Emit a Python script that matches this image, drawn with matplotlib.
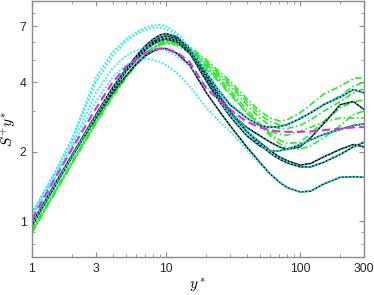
import matplotlib
matplotlib.use("Agg")
import matplotlib.pyplot as plt
from matplotlib.ticker import FixedLocator, NullFormatter

plt.rcParams['font.family'] = ['Liberation Sans', 'DejaVu Sans']
plt.rcParams['mathtext.fontset'] = 'cm'

yplus = [1, 1.5, 2, 3, 4, 5, 6, 7, 8, 9, 10, 12, 15, 20, 25, 30, 40, 50, 60, 70, 80, 100, 120, 150, 200, 250, 300]

# black solid reference curves (overlaid with cyan dots)
black_1 = [0.97, 1.45, 1.92, 2.8, 3.6, 4.25, 4.8, 5.2, 5.45, 5.6, 5.6, 5.35, 4.75, 3.6, 3.0, 2.6, 2.1, 1.8, 1.6, 1.48, 1.4, 1.34, 1.35, 1.45, 1.55, 1.56, 1.55]
black_2 = [0.98, 1.47, 1.95, 2.9, 3.8, 4.55, 5.2, 5.75, 6.15, 6.4, 6.5, 6.3, 5.6, 4.3, 3.5, 3.0, 2.45, 2.15, 1.97, 1.86, 1.79, 1.72, 1.72, 1.8, 1.95, 2.1, 2.2]
black_3 = [0.97, 1.45, 1.93, 2.87, 3.75, 4.5, 5.1, 5.6, 6.0, 6.25, 6.35, 6.2, 5.5, 4.2, 3.4, 2.95, 2.45, 2.2, 2.02, 1.9, 1.83, 1.75, 1.78, 1.9, 2.05, 2.15, 2.1]
black_4 = [0.96, 1.44, 1.92, 2.85, 3.7, 4.45, 5.0, 5.5, 5.85, 6.05, 6.15, 6.0, 5.35, 4.05, 3.3, 2.85, 2.35, 2.12, 2.02, 2.02, 2.05, 2.15, 2.25, 2.38, 2.5, 2.6, 2.64]
black_5 = [0.96, 1.44, 1.92, 2.85, 3.7, 4.45, 5.05, 5.55, 5.9, 6.1, 6.2, 6.05, 5.45, 4.15, 3.4, 2.95, 2.55, 2.35, 2.2, 2.1, 2.05, 2.1, 2.3, 2.65, 3.2, 3.3, 3.05]
black_6 = [0.96, 1.44, 1.92, 2.85, 3.7, 4.45, 5.05, 5.55, 5.9, 6.1, 6.2, 6.1, 5.6, 4.4, 3.65, 3.2, 2.8, 2.6, 2.55, 2.57, 2.62, 2.78, 2.95, 3.2, 3.45, 3.72, 3.6]

# cyan dotted model curves
cyan_1 = [1.09, 1.65, 2.3, 4.2, 5.4, 6.15, 6.6, 6.9, 7.05, 7.1, 7.0, 6.55, 5.7, 4.4, 3.6, 3.1, 2.5, 2.17, 1.98, 1.87, 1.8, 1.72, 1.72, 1.8, 1.95, 2.1, 2.2]
cyan_2 = [1.08, 1.63, 2.25, 4.0, 5.2, 6.0, 6.45, 6.75, 6.9, 6.9, 6.8, 6.4, 5.65, 4.45, 3.7, 3.25, 2.8, 2.6, 2.55, 2.57, 2.62, 2.78, 2.95, 3.2, 3.45, 3.72, 3.6]
cyan_3 = [1.06, 1.58, 2.15, 3.6, 4.6, 5.2, 5.5, 5.65, 5.65, 5.6, 5.5, 5.2, 4.7, 3.85, 3.3, 2.9, 2.4, 2.15, 2.02, 2.02, 2.05, 2.15, 2.25, 2.38, 2.5, 2.6, 2.64]
cyan_4 = [1.05, 1.55, 2.1, 3.3, 4.2, 4.75, 5.0, 5.05, 5.0, 4.9, 4.75, 4.4, 3.85, 3.1, 2.7, 2.45, 2.05, 1.78, 1.6, 1.48, 1.4, 1.34, 1.35, 1.45, 1.55, 1.56, 1.55]

# green dash-dot curves
green_1 = [0.9, 1.35, 1.8, 2.68, 3.5, 4.2, 4.8, 5.3, 5.65, 5.9, 6.05, 6.1, 5.7, 5.0, 4.45, 4.05, 3.4, 3.0, 2.8, 2.72, 2.75, 2.95, 3.2, 3.55, 3.85, 4.15, 4.2]
green_2 = [0.91, 1.36, 1.81, 2.7, 3.52, 4.22, 4.82, 5.3, 5.65, 5.9, 6.05, 6.0, 5.6, 4.9, 4.35, 3.95, 3.3, 2.9, 2.7, 2.62, 2.62, 2.8, 2.95, 3.2, 3.5, 3.85, 4.0]
green_3 = [0.92, 1.37, 1.82, 2.72, 3.55, 4.25, 4.85, 5.3, 5.65, 5.85, 5.95, 5.9, 5.5, 4.8, 4.25, 3.85, 3.2, 2.8, 2.6, 2.52, 2.52, 2.6, 2.75, 3.0, 3.3, 3.6, 3.75]
green_4 = [0.9, 1.35, 1.8, 2.68, 3.5, 4.2, 4.8, 5.25, 5.6, 5.85, 6.0, 5.95, 5.55, 4.75, 4.15, 3.7, 3.05, 2.65, 2.4, 2.25, 2.17, 2.2, 2.4, 2.7, 3.1, 3.3, 3.35]
green_5 = [0.89, 1.34, 1.78, 2.65, 3.45, 4.15, 4.75, 5.2, 5.55, 5.8, 5.95, 5.9, 5.45, 4.65, 4.05, 3.6, 2.95, 2.6, 2.35, 2.17, 2.08, 2.05, 2.12, 2.3, 2.6, 2.9, 3.0]
green_6 = [0.91, 1.36, 1.8, 2.68, 3.5, 4.2, 4.8, 5.25, 5.6, 5.8, 5.9, 5.8, 5.35, 4.55, 4.0, 3.55, 2.95, 2.62, 2.45, 2.38, 2.36, 2.45, 2.55, 2.7, 2.8, 2.8, 2.8]

# magenta dashed
magenta_1 = [1.02, 1.55, 2.07, 3.08, 4.0, 4.65, 5.05, 5.35, 5.52, 5.6, 5.58, 5.4, 4.9, 3.75, 3.35, 3.05, 2.7, 2.55, 2.48, 2.45, 2.44, 2.44, 2.45, 2.48, 2.52, 2.55, 2.56]

xticks = [1, 3, 10, 100, 300]
xticklabels = ['1', '3', '10', '100', '300']
yticks = [1, 2, 4, 7]
yticklabels = ['1', '2', '4', '7']

fig = plt.figure(figsize=(3.74, 2.95), dpi=100)
ax = fig.add_axes([32/374, 38/295, 332/374, 256/295])

GREEN = '#22ee22'
for g in [green_1, green_2, green_3, green_4, green_5, green_6]:
    ax.plot(yplus, g, color=GREEN, ls=(0, (4, 1.5, 1, 1.5)), lw=1.2)
for b in [black_1, black_2, black_3, black_4, black_5, black_6]:
    ax.plot(yplus, b, color='black', ls='-', lw=1.1)
for c in [cyan_1, cyan_2, cyan_3, cyan_4]:
    ax.plot(yplus, c, color='#22eef2', ls=(0, (1, 1)), lw=1.3)
for b in [black_1, black_2, black_3, black_4, black_5, black_6]:
    ax.plot(yplus, b, color='#22c8d0', ls=(0, (1, 1.6)), lw=1.0)
ax.plot(yplus, magenta_1, color='#ee22ee', ls=(0, (4, 2)), lw=1.5)

ax.set_xscale('log')
ax.set_yscale('log')
ax.set_xlim(1, 300)
ax.set_ylim(0.7, 9)

ax.xaxis.set_major_locator(FixedLocator(xticks))
ax.set_xticklabels(xticklabels)
ax.xaxis.set_minor_locator(FixedLocator([2, 4, 5, 6, 7, 8, 9, 20, 30, 40, 50, 60, 70, 80, 90, 200]))
ax.xaxis.set_minor_formatter(NullFormatter())
ax.yaxis.set_major_locator(FixedLocator(yticks))
ax.set_yticklabels(yticklabels)
ax.yaxis.set_minor_locator(FixedLocator([0.8, 0.9, 3, 5, 6, 8]))
ax.yaxis.set_minor_formatter(NullFormatter())

for s in ax.spines.values():
    s.set_color('#8a8a8a')
    s.set_linewidth(1.0)
ax.tick_params(which='both', direction='in', top=True, right=True, color='#8a8a8a',
               labelsize=8.8, labelcolor='#262626', pad=4)
ax.tick_params(which='major', length=3.5)
ax.tick_params(which='minor', length=2.5)

ax.set_xlabel(r'$y^*$', fontsize=11, labelpad=1)
ax.set_ylabel(r'$S^{+}y^{*}$', fontsize=11, labelpad=1)

fig.savefig('out.png', dpi=100)
